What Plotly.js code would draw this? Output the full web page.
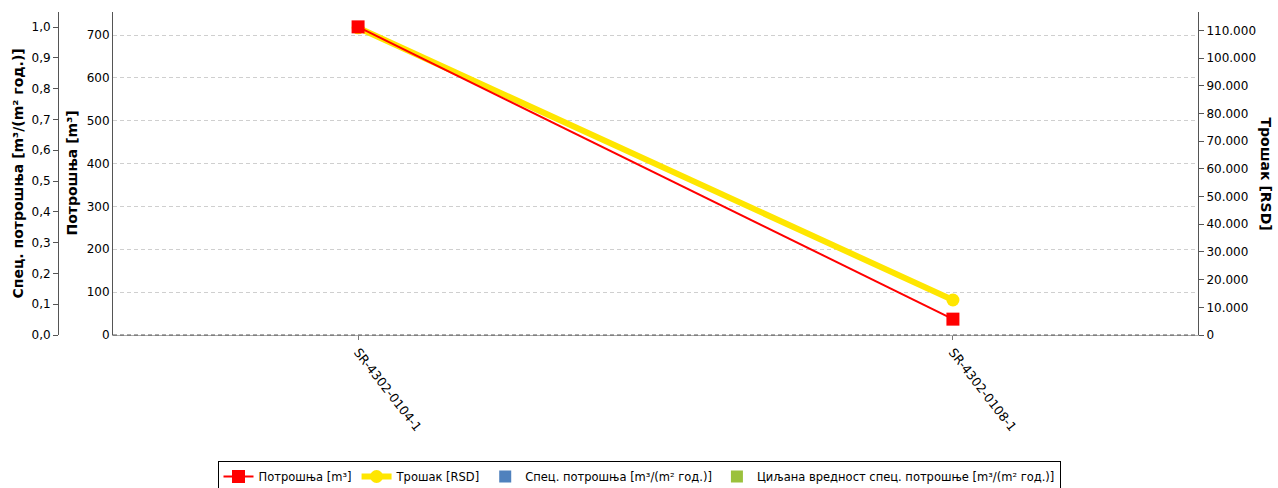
<!DOCTYPE html>
<html><head><meta charset="utf-8">
<script src="https://cdn.plot.ly/plotly-3.0.1.min.js"></script>
<style>body{margin:0;padding:0;background:#fff}#chart{width:1278px;height:488px}</style>
</head><body><div id="chart"></div>
<script>
const categories = ["SR-4302-0104-1", "SR-4302-0108-1"];
const potrosnja = [719, 37];
const trosak = [111000, 12640];
const specPotrosnja = [null, null];
const ciljanaVrednost = [null, null];
const seriesNames = ["Потрошња [m³]", "Трошак [RSD]", "Спец. потрошња [m³/(m² год.)]", "Циљана вредност спец. потрошње [m³/(m² год.)]"];

const F = "DejaVu Sans, sans-serif";
const data = [
  {type:'bar', x:categories, y:specPotrosnja, name:seriesNames[2], marker:{color:'#4f81bd'}, yaxis:'y', showlegend:true, legendrank:3},
  {type:'bar', x:categories, y:ciljanaVrednost, name:seriesNames[3], marker:{color:'#9bc13c'}, yaxis:'y', showlegend:true, legendrank:4},
  {type:'scatter', mode:'lines+markers', x:categories, y:trosak, name:seriesNames[1], yaxis:'y2',
   line:{color:'#ffe600', width:6}, marker:{symbol:'circle', size:13, color:'#ffe600'}, legendrank:2},
  {type:'scatter', mode:'lines+markers', x:categories, y:potrosnja, name:seriesNames[0], yaxis:'y3',
   line:{color:'#ff0000', width:2}, marker:{symbol:'square', size:13, color:'#ff0000'}, legendrank:1}
];
const W = 1148;
const dom0 = (113-50)/W;
const layout = {
  width:1278, height:488,
  margin:{l:50, r:80, t:12, b:153},
  paper_bgcolor:'#fff', plot_bgcolor:'#fff',
  separators:',.',
  font:{family:F, size:12, color:'#000'},
  showlegend:true,
  legend:{orientation:'h', x:0.5, xref:'container', xanchor:'center', y:(488-461)/488, yref:'container', yanchor:'top',
          bordercolor:'#000', borderwidth:1, font:{family:F, size:11.5}, traceorder:'normal', itemwidth:30},
  xaxis:{domain:[dom0,1], type:'category', range:[-0.412, 1.412], showgrid:false, showline:true, linecolor:'#aaa', automargin:false,
         ticks:'outside', ticklen:4, tickcolor:'#777', tickangle:52, tickfont:{family:F, size:12.5}, zeroline:false},
  yaxis:{anchor:'free', position:(58-50)/W, range:[0,1.049], tickvals:[0,0.1,0.2,0.3,0.4,0.5,0.6,0.7,0.8,0.9,1.0],
         tickformat:'.1f', showgrid:false, showline:true, linecolor:'#555', ticks:'outside', ticklen:5, tickcolor:'#555', zeroline:false,
         automargin:false, tickfont:{family:F, size:12}},
  yaxis2:{overlaying:'y', side:'right', anchor:'x', range:[0,116700], tickvals:[0,10000,20000,30000,40000,50000,60000,70000,80000,90000,100000,110000],
          tickformat:',d', showgrid:false, showline:true, linecolor:'#555', ticks:'outside', ticklen:5, tickcolor:'#555', zeroline:false,
          automargin:false, tickfont:{family:F, size:12}},
  yaxis3:{overlaying:'y', side:'left', anchor:'x', range:[0,753.7], tickvals:[0,100,200,300,400,500,600,700], showgrid:true, gridcolor:'#cfcfcf', griddash:'4px,3px',
          showline:true, linecolor:'#555', ticks:'', zeroline:false, automargin:false, tickfont:{family:F, size:12}},
  shapes:[
    {type:'line', xref:'paper', yref:'paper', x0:dom0, x1:1, y0:0, y1:0, line:{color:'#555', width:1, dash:'4px,3px'}}
  ],
  annotations:[
    {text:'<b>Спец. потрошња [m³/(m² год.)]</b>', xref:'paper', yref:'paper', x:-(50-17)/W, y:0.5, textangle:-90, showarrow:false, font:{family:F, size:14}, xanchor:'center', yanchor:'middle'},
    {text:'<b>Потрошња [m³]</b>', xref:'paper', yref:'paper', x:(71-50)/W, y:0.5, textangle:-90, showarrow:false, font:{family:F, size:14}, xanchor:'center', yanchor:'middle'},
    {text:'<b>Трошак [RSD]</b>', xref:'paper', yref:'paper', x:1+(1266-1198)/W, y:0.5, textangle:90, showarrow:false, font:{family:F, size:14}, xanchor:'center', yanchor:'middle'}
  ]
};
Plotly.newPlot('chart', data, layout, {displayModeBar:false, staticPlot:true});
</script></body></html>
